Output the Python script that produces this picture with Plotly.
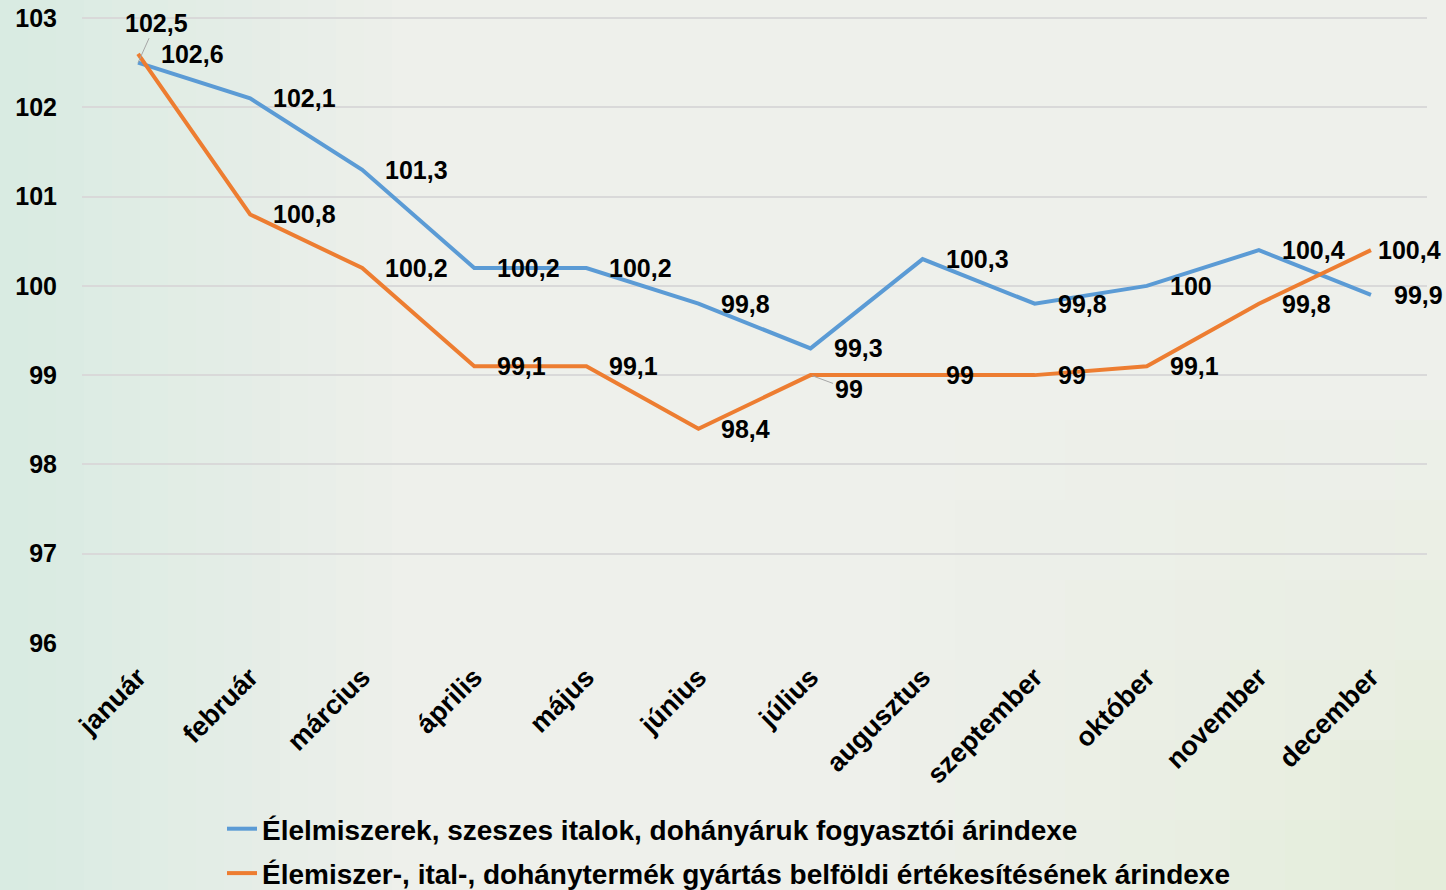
import plotly.graph_objects as go

months = ["január", "február", "március", "április", "május", "június",
          "július", "augusztus", "szeptember", "október", "november", "december"]
consumer_index = [102.5, 102.1, 101.3, 100.2, 100.2, 99.8, 99.3, 100.3, 99.8, 100, 100.4, 99.9]
producer_index = [102.6, 100.8, 100.2, 99.1, 99.1, 98.4, 99, 99, 99, 99.1, 99.8, 100.4]
name_consumer = "Élelmiszerek, szeszes italok, dohányáruk fogyasztói árindexe"
name_producer = "Élemiszer-, ital-, dohánytermék gyártás belföldi értékesítésének árindexe"
y_ticks = [96, 97, 98, 99, 100, 101, 102, 103]

BLUE = "#5B9BD5"
ORANGE = "#ED7D31"
FONT = "Liberation Sans, Arial, sans-serif"

def fmt(v):
    return f"{v:g}".replace(".", ",")

fig = go.Figure()
fig.add_trace(go.Scatter(x=months, y=consumer_index, mode="lines", name=name_consumer,
                         legendgroup="a", line=dict(color=BLUE, width=4)))
fig.add_trace(go.Scatter(x=months, y=producer_index, mode="lines", name=name_producer,
                         legendgroup="b", line=dict(color=ORANGE, width=4)))

ann = []
lab_font = dict(family=FONT, size=25, color="#000000", weight="bold")
for i, (m, v) in enumerate(zip(months, consumer_index)):
    if i == 0:
        ann.append(dict(x=m, y=v, text=fmt(v), showarrow=True, ax=18, ay=-40,
                        arrowhead=0, arrowwidth=1, arrowcolor="#a6a6a6", standoff=0,
                        font=lab_font))
    else:
        ann.append(dict(x=m, y=v, text=fmt(v), showarrow=False, xanchor="left",
                        xshift=21, yshift=0, font=lab_font))
for i, (m, v) in enumerate(zip(months, producer_index)):
    if i == 6:
        ann.append(dict(x=m, y=v, text=fmt(v), showarrow=True, ax=38, ay=14,
                        arrowhead=0, arrowwidth=1, arrowcolor="#a6a6a6", standoff=2,
                        font=lab_font))
    elif i == len(months) - 1:
        ann.append(dict(x=m, y=v, text=fmt(v), showarrow=False, xanchor="left",
                        xshift=5, yshift=0, font=lab_font))
    else:
        ann.append(dict(x=m, y=v, text=fmt(v), showarrow=False, xanchor="left",
                        xshift=21, yshift=0, font=lab_font))

PL, PR, PT, PB = 82, 1427, 17, 643
L, T = PL, PT
R = 1446 - PR
B = 890 - PB
W = PR - PL
H = PB - PT

def px(xw):
    return (xw - PL) / W

def py(yw):
    return (PB - yw) / H

shapes = []
# left teal tint fading to the right
for k in range(14):
    shapes.append(dict(type="rect", xref="paper", yref="paper",
                       x0=px(k * 28), x1=px(k * 28 + 28), y0=py(900), y1=py(-10),
                       fillcolor="#c3e5d9", line=dict(width=0),
                       opacity=0.5 * (1 - k / 14), layer="below"))
# bottom-right green tint, fading upward and to the left
for k in range(10):
    for j in range(6):
        shapes.append(dict(type="rect", xref="paper", yref="paper",
                           x0=px(900 + k * 55), x1=px(955 + k * 55),
                           y0=py(900 - j * 80), y1=py(820 - j * 80),
                           fillcolor="#d8e9c4", line=dict(width=0),
                           opacity=(0.04 + 0.04 * k) * (1 - j / 6), layer="below"))

fig.update_layout(
    width=1446, height=890,
    margin=dict(l=L, r=R, t=T, b=B, autoexpand=False),
    paper_bgcolor="#eef0eb",
    plot_bgcolor="rgba(0,0,0,0)",
    font=dict(family=FONT, color="#000000"),
    showlegend=True,
    legend=dict(orientation="v", x=px(222), xanchor="left", y=py(804), yanchor="top",
                font=dict(family=FONT, size=28, color="#000000", weight="bold"),
                bgcolor="rgba(0,0,0,0)", tracegroupgap=5, itemwidth=30),
    annotations=ann,
    shapes=shapes,
)
fig.update_xaxes(type="category", range=[-0.5, 11.5], automargin=False,
                 showgrid=False, showline=False, zeroline=False,
                 tickangle=-45, ticks="", ticklabelstandoff=12,
                 tickfont=dict(family=FONT, size=27, color="#000000", weight="bold"))
fig.update_yaxes(range=[95.999, 103.012], tickvals=y_ticks, automargin=False,
                 showgrid=True, gridcolor="#d9d9d9",
                 gridwidth=1.5, zeroline=False, showline=False, ticks="",
                 ticklabelstandoff=24,
                 tickfont=dict(family=FONT, size=25, color="#000000", weight="bold"))

fig.write_html("out.html", config={"displayModeBar": False},
               post_script="document.body.style.margin='0';document.body.style.overflow='hidden';")
